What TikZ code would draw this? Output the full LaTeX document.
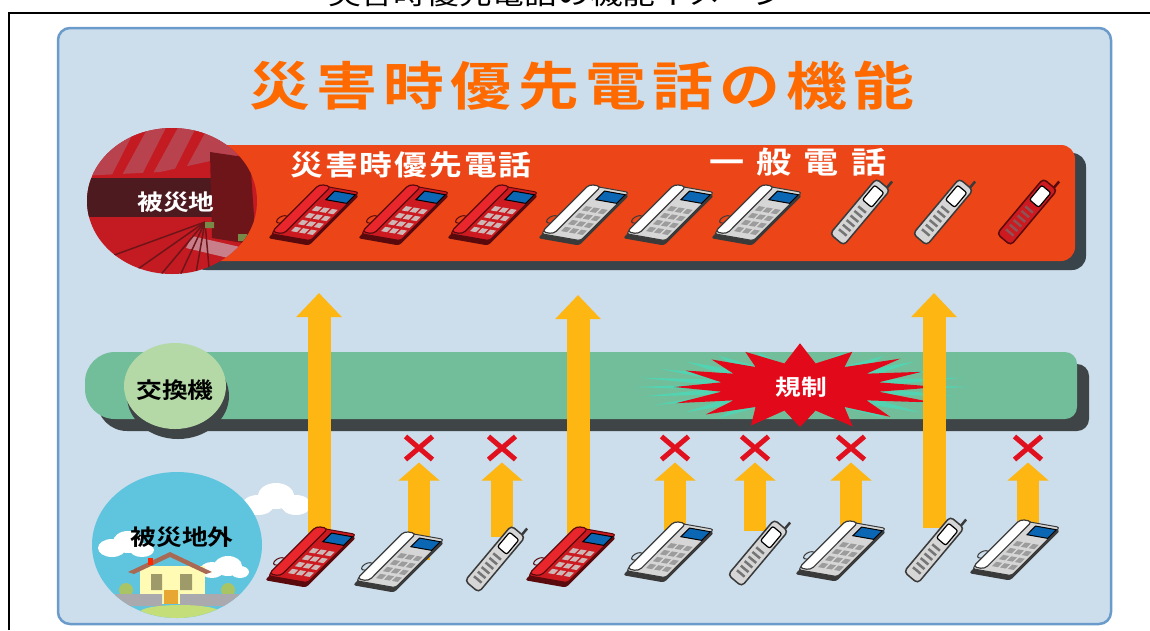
\documentclass[tikz,border=0pt]{standalone}
\usepackage{fontspec}
\usepackage{tikz}
\usetikzlibrary{arrows.meta,positioning,shapes.misc}
\newfontfamily\jpfont{Noto Sans CJK JP}[FakeStretch=1.17]
\newfontfamily\jpbold{Noto Sans CJK JP Bold}[FakeStretch=1.17]
\definecolor{panelfill}{HTML}{CCDDEB}
\definecolor{panelline}{HTML}{6B9BCB}
\definecolor{titleorange}{HTML}{FF6A00}
\definecolor{bandred}{HTML}{EC4517}
\definecolor{bandshade}{HTML}{38434A}
\definecolor{scenered}{HTML}{C41A21}
\definecolor{scenepink}{HTML}{B8434F}
\definecolor{scenedark}{HTML}{4C1A1F}
\definecolor{scenemaroon}{HTML}{6E1519}
\definecolor{sceneroad}{HTML}{C87F8A}
\definecolor{switchgreen}{HTML}{72BE9B}
\definecolor{switchpale}{HTML}{B4D9A6}
\definecolor{switchshade}{HTML}{3F4446}
\definecolor{burstred}{HTML}{E20A1A}
\definecolor{bursthalo}{HTML}{52D4B2}
\definecolor{flowgold}{HTML}{FDB612}
\definecolor{crossred}{HTML}{E0101E}
\definecolor{skyblue}{HTML}{5FC5DF}
\definecolor{screenblue}{HTML}{0B66B3}
\definecolor{phonered}{HTML}{CC1A20}
\definecolor{handsetred}{HTML}{E8262C}
\definecolor{phonereddark}{HTML}{5A0A0C}
\definecolor{keypink}{HTML}{CDB6B6}
\definecolor{phonegrey}{HTML}{D6D6D6}
\definecolor{phonedark}{HTML}{3A3A3A}
\definecolor{keygrey}{HTML}{9C9C9C}
\definecolor{wallcream}{HTML}{FFFBB5}
\definecolor{roofbrown}{HTML}{A86A55}
\definecolor{windowolive}{HTML}{9E9A6A}
\definecolor{doororange}{HTML}{E8A632}
\definecolor{fencegrey}{HTML}{A9A9AE}
\definecolor{bushgreen}{HTML}{A8C464}
\definecolor{lawngreen}{HTML}{C4DE7A}

% desk phone: body, handset, edge, keys
\tikzset{
  pics/deskphone/.style n args={4}{code={
    \begin{scope}[rotate=-10, xslant=0.7]
      \fill[#3, rounded corners=3pt] (-19,-33) rectangle (23,25);
      \filldraw[fill=#1, draw=#3, line width=1pt, rounded corners=3pt] (-20,-28) rectangle (20,28);
      \filldraw[fill=#2, draw=#3, line width=1.2pt, rounded corners=4pt] (-21,-26) rectangle (-9,29);
      \filldraw[fill=screenblue, draw=black, line width=1pt] (-2,15) rectangle (19,25);
      \foreach \kx in {-5,3,11}
        \foreach \ky in {-22,-14,-6,2}
          \fill[#4] (\kx,\ky) rectangle ++(6,5);
      \draw[#3, line width=1pt] (-21,-16) .. controls (-29,-18) and (-29,-6) .. (-21,-8);
    \end{scope}
  }},
  pics/mobile/.style n args={2}{code={
    \begin{scope}[rotate=-40]
      \draw[#2, line width=2.5pt] (5,34) -- (5,44);
      \filldraw[fill=#1, draw=#2, line width=1.5pt, rounded corners=4pt] (-9,-36) rectangle (9,36);
      \filldraw[fill=white, draw=black, line width=1.2pt, rounded corners=2pt] (-6,11) rectangle (6,30);
      \foreach \ky in {-28,-22,...,2}
        \fill[#2!70] (-5,\ky) rectangle (5,\ky+2.5);
    \end{scope}
  }}
}

\begin{document}
\begin{tikzpicture}[x=1pt, y=1pt,
  panel/.style={fill=panelfill, draw=panelline, line width=2.5pt, rounded corners=12pt},
  pagehead/.style={anchor=base, inner sep=0pt, font=\jpfont\fontsize{28}{28}\selectfont},
  bigtitle/.style={inner sep=0pt, text=titleorange,
                   font=\jpbold\fontsize{52}{52}\selectfont\addfontfeature{LetterSpace=12}},
  bandlabel/.style={inner sep=0pt, text=white,
                    font=\jpbold\fontsize{28}{28}\selectfont\addfontfeature{LetterSpace=7}},
  spreadlabel/.style={inner sep=0pt, text=white,
                      font=\jpbold\fontsize{30}{30}\selectfont\addfontfeature{LetterSpace=40}},
  placelabel/.style={inner sep=0pt, font=\jpbold\fontsize{22}{22}\selectfont},
  blocked/.style={cross out, draw=crossred, line width=5pt, minimum width=22pt,
                  minimum height=18pt, inner sep=0pt},
  passflow/.style={draw=flowgold, line width=23pt, -{Triangle[width=44pt, length=24pt]}},
  blockedflow/.style={draw=flowgold, line width=22pt, -{Triangle[width=40pt, length=18pt]},
                      shorten >=3pt}
]
  \useasboundingbox (0,0) rectangle (1150,-630);
  \clip (0,0) rectangle (1150,-630);
  \fill[white] (0,0) rectangle (1150,-630);

  \node[pagehead] (pagehead) at (557,-4) {災害時優先電話の機能イメージ};
  \draw[line width=2pt] (9,-630) -- (9,-12.5) -- (1150,-12.5);

  \draw[panel] (58,-28) rectangle (1111,-624);
  \node[bigtitle] (title) at (582,-86) {災害時優先電話の機能};

  % disaster area band
  \fill[bandshade, rounded corners=14pt] (192,-153) rectangle (1086,-270);
  \fill[bandred, rounded corners=14pt] (180,-145) rectangle (1075,-261);

  \begin{scope}
    \clip (172,-201) ellipse [x radius=85, y radius=73];
    \fill[scenered] (80,-120) rectangle (265,-280);
    \fill[scenepink] (80,-120) -- (265,-120) -- (265,-150) -- (215,-160) -- (160,-172) -- (80,-176) -- cycle;
    \foreach \sx in {110,140,170,200}
      \fill[scenered] (\sx,-120) -- ++(12,0) -- ++(-30,-55) -- ++(-10,0) -- cycle;
    \fill[scenedark] (80,-178) rectangle (214,-217);
    \fill[scenemaroon] (210,-152) -- (250,-158) -- (256,-245) -- (212,-238) -- cycle;
    \fill[sceneroad] (192,-236) -- (262,-252) -- (262,-266) -- (186,-248) -- cycle;
    \foreach \a in {200,215,...,275}
      \draw[scenemaroon, line width=1.5pt] (205,-222) -- ++(\a:110);
    \fill[bushgreen!70!black] (205,-222) rectangle ++(9,-6) (238,-234) rectangle ++(9,-7);
  \end{scope}
  \node[placelabel, text=white] (hisaichi) at (176,-202) {被災地};

  \node[bandlabel] (prioritylabel) at (411,-165) {災害時優先電話};
  \node[spreadlabel] (normallabel) at (798,-162) {一般電話};

  \foreach \n/\px in {1/315,2/405,3/494}
    \pic (t\n) at (\px,-213) {deskphone={phonered}{handsetred}{phonereddark}{keypink}};
  \foreach \n/\px in {4/585,5/670,6/758}
    \pic (t\n) at (\px,-213) {deskphone={phonegrey}{white}{phonedark}{keygrey}};
  \foreach \n/\px in {7/860,8/943}
    \pic (t\n) at (\px,-212) {mobile={phonegrey}{phonedark}};
  \pic (t9) at (1027,-212) {mobile={phonered}{phonereddark}};

  % exchange band
  \begin{scope}[shift={(12,-12)}]
    \fill[switchshade] (600,-352) [rounded corners=12pt] -- (1077,-352) -- (1077,-419) -- (600,-419)
      [rounded corners=30pt] -- (85,-419) -- (85,-352) -- cycle;
  \end{scope}
  \fill[switchgreen] (600,-352) [rounded corners=12pt] -- (1077,-352) -- (1077,-419) -- (600,-419)
    [rounded corners=30pt] -- (85,-419) -- (85,-352) -- cycle;
  \fill[switchshade] (178,-396) ellipse [x radius=51, y radius=43];
  \fill[switchpale] (175,-386) ellipse [x radius=51, y radius=43];
  \node[placelabel] (koukanki) at (175,-390) {交換機};

  \begin{scope}[shift={(800,-387)}]
    \pgfmathsetseed{11}
    \fill[bursthalo] (170,0) \foreach \k in {1,...,47} {
      -- ({cos(\k*7.5)*(mod(\k,2)==0 ? 160+12*rnd : 95)}, {sin(\k*7.5)*(mod(\k,2)==0 ? 36 : 20)}) } -- cycle;
    \fill[burstred] (140,0) \foreach \k in {1,...,31} {
      -- ({cos(\k*11.25)*(mod(\k,2)==0 ? 120+25*rnd : 80)}, {sin(\k*11.25)*(mod(\k,2)==0 ? 38+6*rnd : 24)}) } -- cycle;
  \end{scope}
  \node[placelabel, text=white] (kisei) at (801,-387) {規制};

  % outside area
  \fill[white] (258,-505) ellipse [x radius=16, y radius=10] (276,-496) ellipse [x radius=18, y radius=13]
    (296,-505) ellipse [x radius=15, y radius=10];
  \begin{scope}
    \clip (177,-545) ellipse [x radius=85, y radius=73];
    \fill[skyblue] (90,-470) rectangle (265,-620);
    \fill[white] (112,-548) ellipse [x radius=14, y radius=9] (128,-542) ellipse [x radius=15, y radius=11]
      (142,-550) ellipse [x radius=12, y radius=7];
    \fill[white] (212,-570) ellipse [x radius=12, y radius=8] (228,-566) ellipse [x radius=14, y radius=10]
      (240,-572) ellipse [x radius=9, y radius=6];
    \fill[bushgreen] (126,-590) circle [radius=7] (228,-590) circle [radius=7];
    \fill[wallcream] (140,-566) rectangle (205,-604);
    \fill[roofbrown] (128,-572) -- (170,-552) -- (212,-572) -- (206,-574) -- (170,-557) -- (134,-574) -- cycle;
    \fill[red!70!orange] (148,-558) rectangle (153,-565);
    \fill[windowolive] (151,-574) rectangle (162,-590) (180,-574) rectangle (192,-590);
    \fill[doororange] (164,-590) rectangle (178,-604);
    \fill[fencegrey] (115,-594) rectangle (162,-606) (180,-594) rectangle (245,-606);
    \fill[lawngreen] (180,-612) ellipse [x radius=40, y radius=7];
  \end{scope}
  \node[placelabel] (hisaichigai) at (182,-537) {被災地外};

  % calls from outside
  \foreach \n/\px/\py in {1/312/555,2/400/560,3/495/559,4/572/555,5/670/550,
                          6/758/553,7/842/549,8/934/550,9/1016/548}
    \coordinate (b\n) at (\px,-\py);
  \foreach \n/\px in {1/419,2/502,3/675,4/755,5/851,6/1028}
    \node[blocked] (x\n) at (\px,-448) {};
  \coordinate (up1) at (319,-293);
  \coordinate (up2) at (578,-295);
  \coordinate (up3) at (934,-293);

  \draw[passflow] (up1 |- b1) -- (up1);
  \draw[passflow] (up2 |- b4) -- (up2);
  \draw[passflow, shorten <=22pt] (up3 |- b8) -- (up3);
  \foreach \a/\b in {x1/b2,x3/b5,x5/b7,x6/b9}
    \draw[blockedflow] (\a |- \b) -- (\a.south);
  \foreach \a/\b in {x2/b3,x4/b6}
    \draw[blockedflow, shorten <=22pt] (\a |- \b) -- (\a.south);

  \foreach \n in {1,4}
    \pic at (b\n) {deskphone={phonered}{handsetred}{phonereddark}{keypink}};
  \foreach \n in {2,5,7,9}
    \pic at (b\n) {deskphone={phonegrey}{white}{phonedark}{keygrey}};
  \foreach \n in {3,6,8}
    \pic at (b\n) {mobile={phonegrey}{phonedark}};
\end{tikzpicture}
\end{document}
